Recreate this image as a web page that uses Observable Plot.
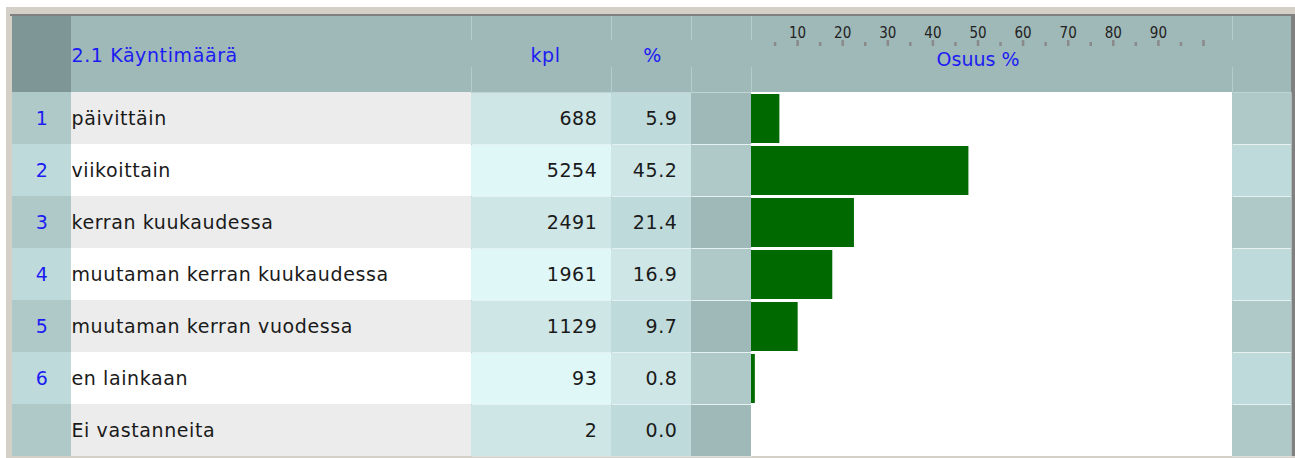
<!DOCTYPE html>
<html>
<head>
<meta charset="utf-8">
<script src="https://cdn.jsdelivr.net/npm/d3@7"></script>
<script src="https://cdn.jsdelivr.net/npm/@observablehq/plot@0.6"></script>
<style>
  html, body { margin: 0; padding: 0; background: #ffffff; }
  #wrap { position: relative; width: 1295px; height: 458px; overflow: hidden; font-family: "DejaVu Sans", sans-serif; }
  #beige { position: absolute; left: 6px; top: 7px; width: 1289px; height: 451px; background: #d4d0c8; }
  #topline { position: absolute; left: 10px; top: 14px; width: 1285px; height: 2px; background: #808080; }
  #rightline { position: absolute; left: 1291px; top: 14px; width: 4px; height: 442px; background: #808080; }
  #cols { position: absolute; left: 12px; top: 16px; display: flex; }
  #cols svg { display: block; }
  #axis { position: absolute; left: 751px; top: 16px; }
  .hl { position: absolute; width: 1px; background: #b6cccc; }
</style>
</head>
<body>
<div id="wrap">
  <div id="beige"></div>
  <div id="topline"></div>
  <div id="rightline"></div>
  <div id="cols"></div>
  <div id="axis"></div>
</div>
<script>
// ---- data ----
const title = "2.1 Käyntimäärä";
const countHeader = "kpl";
const shareHeader = "%";
const axisTitle = "Osuus %";
const rowNums = ["1", "2", "3", "4", "5", "6", ""];
const answers = ["päivittäin", "viikoittain", "kerran kuukaudessa", "muutaman kerran kuukaudessa", "muutaman kerran vuodessa", "en lainkaan", "Ei vastanneita"];
const counts = [688, 5254, 2491, 1961, 1129, 93, 2];
const shares = [5.9, 45.2, 21.4, 16.9, 9.7, 0.8, 0.0];
const majorTicks = [10, 20, 30, 40, 50, 60, 70, 80, 90, 100];
const minorTicks = [5, 15, 25, 35, 45, 55, 65, 75, 85, 95];
const tickLabels = [10, 20, 30, 40, 50, 60, 70, 80, 90];

const rows = answers.map((a, i) => ({ num: rowNums[i], answer: a, count: counts[i], share: shares[i] }));

const blue = "#1c1cf2";
const ink = "#1a1a1a";
const headerBg = "#9fb8b8";

function column({ width, header = headerBg, fills, sep = false, marks = [], x = { axis: null } }) {
  return Plot.plot({
    width, height: 440,
    marginTop: 76, marginBottom: 0, marginLeft: 0, marginRight: 0,
    style: { background: header, fontFamily: "DejaVu Sans, sans-serif", fontSize: "19px", letterSpacing: "0.6px", overflow: "visible" },
    y: { domain: answers, padding: 0, axis: null },
    x,
    color: { type: "identity" },
    marks: [
      sep ? Plot.frame({ fill: "#e6f1f1", stroke: "none" }) : null,
      Plot.cell(rows, { y: "answer", fill: (d, i) => fills[i % 2], insetTop: sep ? 1 : 0 }),
      ...marks
    ]
  });
}

const cols = document.getElementById("cols");

// row number column
cols.appendChild(column({
  width: 59, header: "#7e9696", fills: ["#afc9c9", "#bfdada"],
  marks: [Plot.text(rows, { y: "answer", text: "num", frameAnchor: "middle", fill: blue })]
}));

// answer label column
cols.appendChild(column({
  width: 400, fills: ["#ececec", "#ffffff"],
  marks: [
    Plot.text([title], { text: d => d, frameAnchor: "top-left", textAnchor: "start", lineAnchor: "middle", dy: -37, fill: blue }),
    Plot.text(rows, { y: "answer", text: "answer", frameAnchor: "left", textAnchor: "start", fill: ink })
  ]
}));

// count column
cols.appendChild(column({
  width: 140, fills: ["#cfe6e6", "#dff7f7"], sep: true,
  marks: [
    Plot.text([countHeader], { text: d => d, frameAnchor: "top", lineAnchor: "middle", dy: -37, dx: 4, fill: blue }),
    Plot.text(rows, { y: "answer", text: d => String(d.count), frameAnchor: "right", textAnchor: "end", dx: -14, fill: ink })
  ]
}));

// share column
cols.appendChild(column({
  width: 80, fills: ["#bfdada", "#cfe6e6"], sep: true,
  marks: [
    Plot.text([shareHeader], { text: d => d, frameAnchor: "top", lineAnchor: "middle", dy: -37, dx: 1, fill: blue }),
    Plot.text(rows, { y: "answer", text: d => d.share.toFixed(1), frameAnchor: "right", textAnchor: "end", dx: -14, fill: ink })
  ]
}));

// spacer column
cols.appendChild(column({ width: 60, fills: ["#9fb8b8", "#afc9c9"], sep: true }));

// bar column
cols.appendChild(column({
  width: 481, fills: ["#ffffff", "#ffffff"],
  x: { domain: [0, 100], axis: null },
  marks: [
    Plot.barX(rows, { y: "answer", x: "share", fill: "#006a00", insetTop: 2, insetBottom: 1 })
  ]
}));

// right column
cols.appendChild(column({ width: 59, fills: ["#afc9c9", "#bfdada"], sep: true }));

// header axis of the bar column
document.getElementById("axis").appendChild(Plot.plot({
  width: 481, height: 76,
  marginTop: 24, marginBottom: 46, marginLeft: 1, marginRight: 29,
  style: { background: "transparent", overflow: "visible", fontFamily: "DejaVu Sans Condensed, DejaVu Sans, sans-serif" },
  x: { domain: [0, 100], axis: null },
  marks: [
    Plot.tickX(minorTicks, { x: d => d, stroke: "#8a8a8a", strokeWidth: 2.5, insetTop: 2 }),
    Plot.tickX(majorTicks, { x: d => d, stroke: "#8a8a8a", strokeWidth: 2.5 }),
    Plot.text(tickLabels, { x: d => d, text: d => String(d), frameAnchor: "top", lineAnchor: "middle", dy: -7, fill: "#222", fontSize: 15 }),
    Plot.text([axisTitle], { text: d => d, frameAnchor: "bottom", lineAnchor: "middle", dy: 13, fill: blue, fontSize: 19, fontFamily: "DejaVu Sans, sans-serif", letterSpacing: "0.6px" })
  ]
}));

// faint header dividers (decoration)
const wrap = document.getElementById("wrap");
for (const xPix of [471, 611, 691, 751, 1232]) {
  for (const [t, h] of [[16, 24], [67, 25]]) {
    const d = document.createElement("div");
    d.className = "hl";
    d.style.left = xPix + "px"; d.style.top = t + "px"; d.style.height = h + "px";
    wrap.appendChild(d);
  }
}
</script>
</body>
</html>
